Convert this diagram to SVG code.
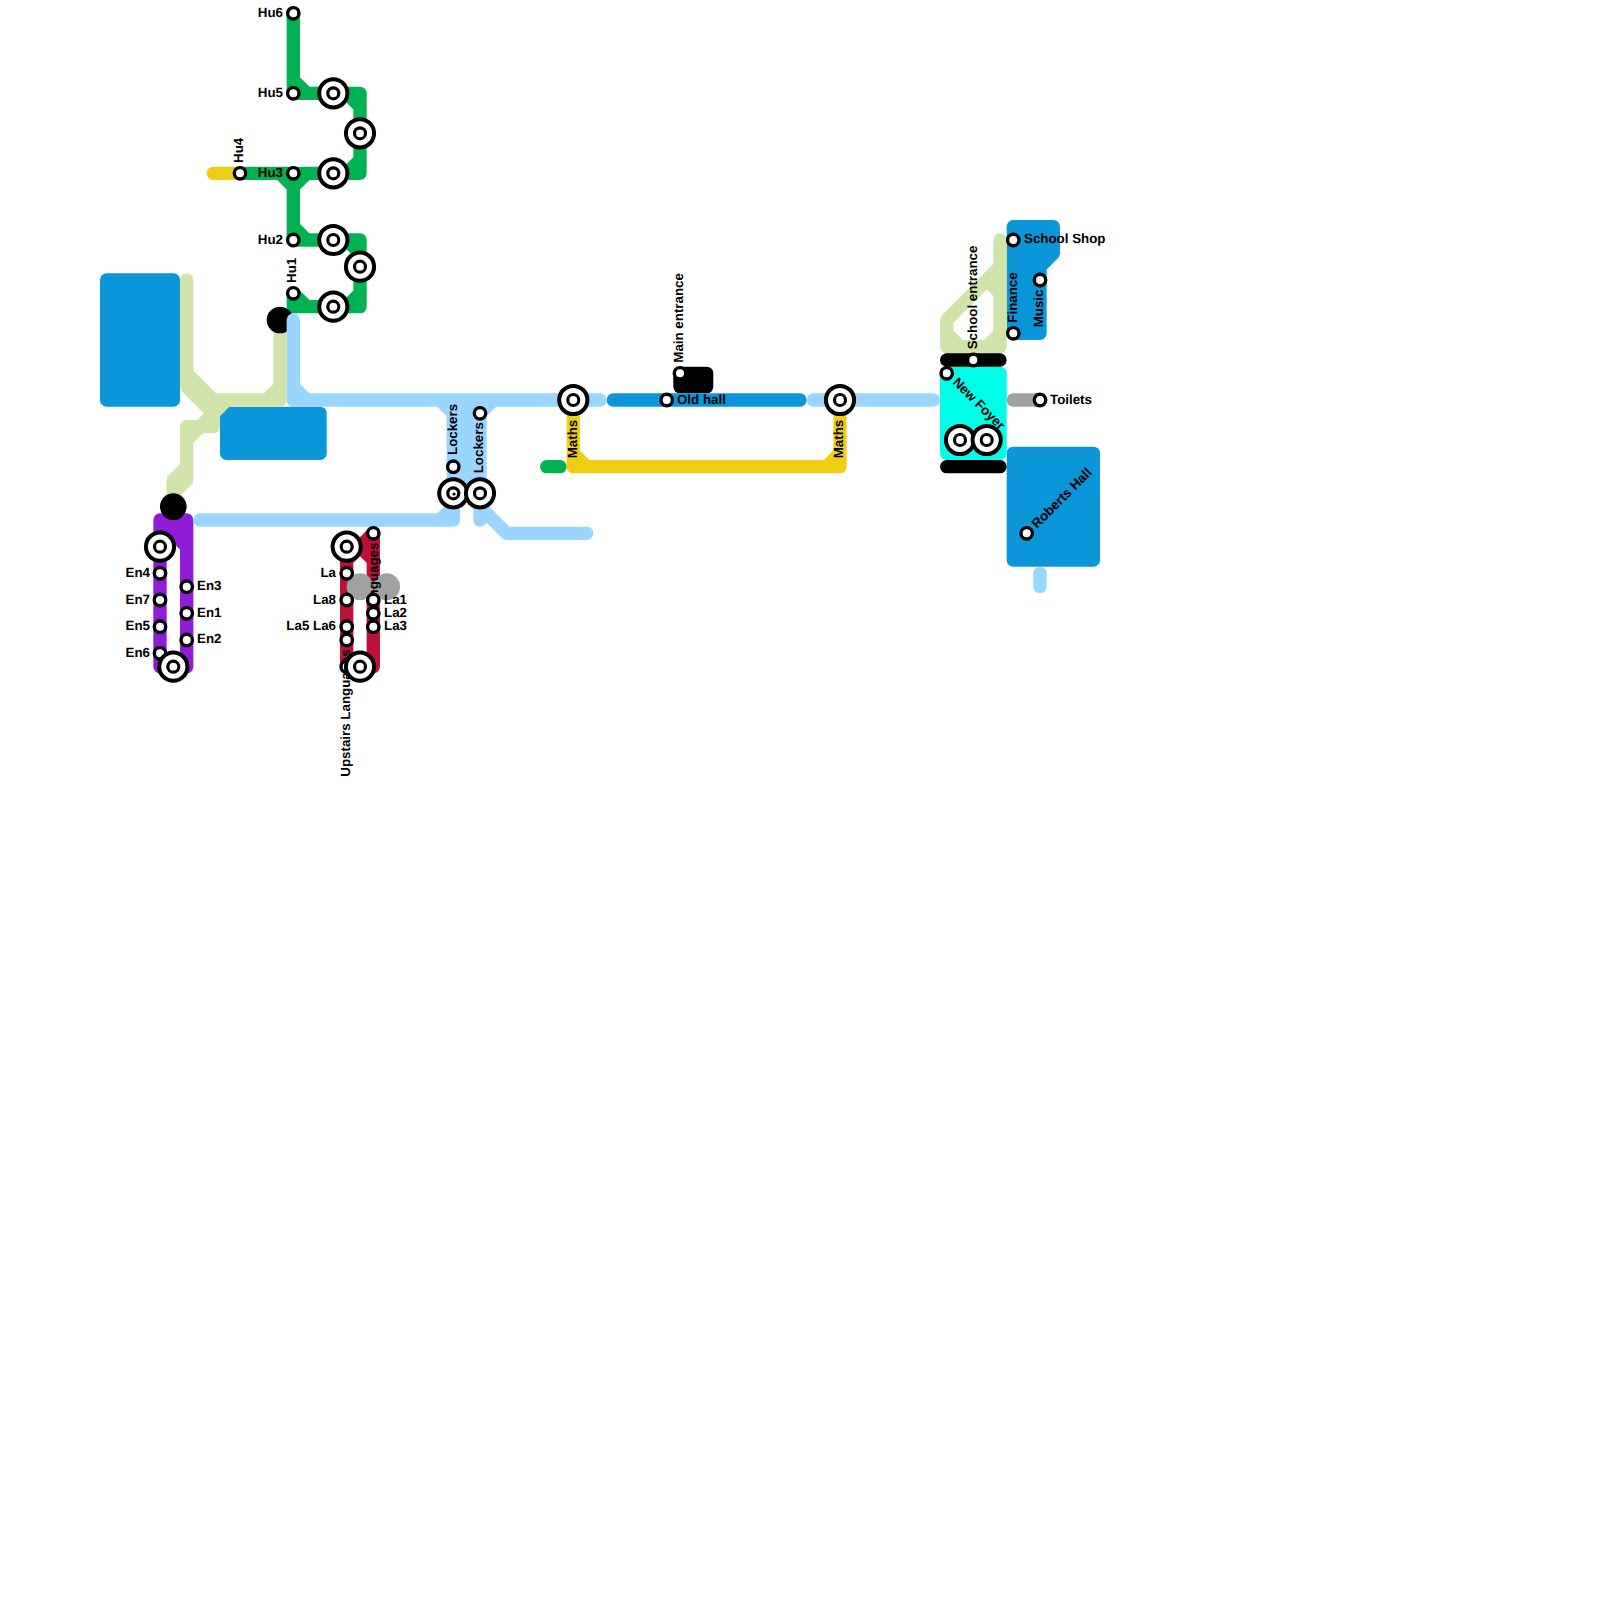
<svg xmlns="http://www.w3.org/2000/svg" width="1600" height="1600" viewBox="0 0 1600 1600">
<style>
.l{fill:none;stroke-width:13.33;stroke-linecap:round;stroke-linejoin:round}
.gr{stroke:#00b251}.pg{stroke:#d0e4a9}.lb{stroke:#99d5ff}.ye{stroke:#f0ce15}.bl{stroke:#0a96d8}.pu{stroke:#8e1cd6}.re{stroke:#bc1138}.gy{stroke:#a1a1a1}.bk{stroke:#000}
.fpu{fill:#8e1cd6}
.area{fill:#0a96d8}
text{font-family:"Liberation Sans",Arial,sans-serif;font-weight:bold;font-size:13.33px;fill:#000;text-rendering:geometricPrecision}
.e{text-anchor:end}
.st{fill:#fff;stroke:#000;stroke-width:3.4}
.o{fill:#fff;stroke:#000;stroke-width:4}
.i{fill:#fff;stroke:#000;stroke-width:3.2}
</style>
<defs>
<g id="ic"><circle class="o" r="14.1"/><circle class="i" r="5.5"/></g>
</defs>
<rect width="1600" height="1600" fill="#fff"/>
<g id="areas">
<rect class="area" x="100" y="273.3" width="80" height="133.4" rx="6.5"/>
<rect class="area" x="220" y="406.7" width="106.7" height="53.3" rx="6.5"/>
<path class="area" stroke="#0a96d8" stroke-width="13.33" stroke-linejoin="round" d="M1013.3 226.7H1053.3V253.3L1040 266.7V333.3H1013.3Z"/>
<rect class="area" x="1006.7" y="446.7" width="93.3" height="120" rx="6.5"/>
<rect x="940" y="366.7" width="66.7" height="93.3" rx="6.5" fill="#00ffe9"/>
<rect x="673.3" y="366.7" width="40" height="26.6" rx="6.5" fill="#000"/>
</g>
<g id="connectors">
<path class="l ye" d="M213.3 173.3H240"/>
<path class="l gr" d="M293.3 13.3V93.3H360V173.3H240M293.3 80L306.7 93.3M346.7 93.3L360 106.7M360 160L346.7 173.3M280 173.3L293.3 186.7L306.7 173.3M293.3 173.3V240H360V306.7H293.3V293.3M293.3 226.7L306.7 240M346.7 240L360 253.3M360 293.3L346.7 306.7M293.3 293.3L306.7 306.7"/>
<path class="l pg" d="M186.7 280V373.3L213.3 400H280V326M186.7 373.3V386.7L213.3 413.3M266.7 400L280 386.7M226.7 400L200 426.7M186.7 426.7H213.3M213.3 413.3V426.7M200 426.7L186.7 440M186.7 426.7V480L173.3 493.3V506.7M186.7 466.7L173.3 480V493.3"/>
<path class="l pg" d="M1000 240V346.7H946.7V320L1000 266.7M986.7 280L1000 293.3M946.7 333.3L960 346.7M986.7 346.7L1000 333.3"/>
<circle cx="280" cy="320" r="13.33" fill="#000"/>
<path class="fpu" d="M160 520H186.7V546.7Z"/>
<path class="l pu" d="M160 520H186.7V666.7H160ZM160 520L186.7 546.7"/>
<circle cx="173.3" cy="506.7" r="13.33" fill="#000"/>
<path class="l lb" d="M293.3 320V400H600M293.3 386.7L306.7 400M440 400L453.3 413.3M493.3 400L480 413.3M453.3 400V520H200M466.7 400V486M480 400V520M440 520L453.3 506.7M480 506.7L506.7 533.3H586.7"/>
<path class="l ye" d="M573.3 400V466.7H840V400M573.3 453.3L586.7 466.7M826.7 466.7L840 453.3"/>
<path class="l gr" d="M546.7 466.7H560"/>
<path class="l bl" d="M613.3 400H800"/>
<path class="l lb" d="M813.3 400H933.3"/>
<path class="l re" d="M346.7 546.7V666.7H373.3V533.3L360 546.7L373.3 560M346.7 560L360 546.7"/>
<circle cx="360" cy="586.7" r="13.33" fill="#a1a1a1"/>
<circle cx="386.7" cy="586.7" r="13.33" fill="#a1a1a1"/>
<path class="l bk" d="M946.7 360H1000M946.7 466.7H1000"/>
<path class="l gy" d="M1013.3 400H1040"/>
<path class="l lb" d="M1040 573.3V586.7"/>
</g>
<g id="labels">
<text class="e" x="283" y="16.5">Hu6</text>
<text class="e" x="283" y="96.5">Hu5</text>
<text class="e" x="283" y="176.5">Hu3</text>
<text class="e" x="283" y="243.5">Hu2</text>
<text transform="translate(243,163) rotate(-90)">Hu4</text>
<text transform="translate(296,283) rotate(-90)">Hu1</text>
<text class="e" x="150" y="576.5">En4</text>
<text class="e" x="150" y="603.5">En7</text>
<text class="e" x="150" y="630">En5</text>
<text class="e" x="150" y="656.5">En6</text>
<text x="197" y="590">En3</text>
<text x="197" y="616.5">En1</text>
<text x="197" y="643">En2</text>
<text class="e" x="336" y="576.5">La</text>
<text class="e" x="336" y="603.5">La8</text>
<text class="e" x="336" y="630">La5 La6</text>
<text x="384" y="603.5">La1</text>
<text x="384" y="616.5">La2</text>
<text x="384" y="630">La3</text>
<text transform="translate(350,776.7) rotate(-90)">Upstairs Languages</text>
<text transform="translate(378,613) rotate(-90)">Languages</text>
<text transform="translate(457,455) rotate(-90)">Lockers</text>
<text transform="translate(483,473.3) rotate(-90)">Lockers</text>
<text transform="translate(577,458.3) rotate(-90)">Maths</text>
<text transform="translate(843,458.3) rotate(-90)">Maths</text>
<text transform="translate(683,362.7) rotate(-90)">Main entrance</text>
<text x="677" y="403.5">Old hall</text>
<text transform="translate(976.5,349.3) rotate(-90)">School entrance</text>
<text transform="translate(1016.5,322.7) rotate(-90)">Finance</text>
<text transform="translate(1043,327.3) rotate(-90)">Music</text>
<text x="1024" y="243">School Shop</text>
<text x="1050" y="403.5">Toilets</text>
<text transform="translate(1037,529) rotate(-45)">Roberts Hall</text>
<text transform="translate(952,383) rotate(45)">New Foyer</text>
</g>
<g id="stations">
<g id="n-hu6"><circle class="st" cx="293.3" cy="13.3" r="5.7"/></g>
<g id="n-hu5"><circle class="st" cx="293.3" cy="93.3" r="5.7"/></g>
<g id="n-hu3"><circle class="st" cx="293.3" cy="173.3" r="5.7"/></g>
<g id="n-hu2"><circle class="st" cx="293.3" cy="240" r="5.7"/></g>
<g id="n-hu1"><circle class="st" cx="293.3" cy="293.3" r="5.7"/></g>
<g id="n-hu4"><circle class="st" cx="240" cy="173.3" r="5.7"/></g>
<use id="x1" href="#ic" x="333.3" y="93.3"/>
<use id="x2" href="#ic" x="360" y="133.3"/>
<use id="x3" href="#ic" x="333.3" y="173.3"/>
<use id="x4" href="#ic" x="333.3" y="240"/>
<use id="x5" href="#ic" x="360" y="266.7"/>
<use id="x6" href="#ic" x="333.3" y="306.7"/>
<g id="n-en4"><circle class="st" cx="160" cy="573.3" r="5.7"/></g>
<g id="n-en7"><circle class="st" cx="160" cy="600" r="5.7"/></g>
<g id="n-en5"><circle class="st" cx="160" cy="626.7" r="5.7"/></g>
<g id="n-en6"><circle class="st" cx="160" cy="653.3" r="5.7"/></g>
<g id="n-en3"><circle class="st" cx="186.7" cy="586.7" r="5.7"/></g>
<g id="n-en1"><circle class="st" cx="186.7" cy="613.3" r="5.7"/></g>
<g id="n-en2"><circle class="st" cx="186.7" cy="640" r="5.7"/></g>
<use id="x7" href="#ic" x="160" y="546.7"/>
<use id="x8" href="#ic" x="173.3" y="666.7"/>
<g id="n-la"><circle class="st" cx="346.7" cy="573.3" r="5.7"/></g>
<g id="n-la8"><circle class="st" cx="346.7" cy="600" r="5.7"/></g>
<g id="n-la5"><circle class="st" cx="346.7" cy="626.7" r="5.7"/></g>
<g id="n-la6"><circle class="st" cx="346.7" cy="640" r="5.7"/></g>
<g id="n-up"><circle class="st" cx="346.7" cy="666.7" r="5.7"/></g>
<g id="n-lang"><circle class="st" cx="373.3" cy="533.3" r="5.7"/></g>
<g id="n-la1"><circle class="st" cx="373.3" cy="600" r="5.7"/></g>
<g id="n-la2"><circle class="st" cx="373.3" cy="613.3" r="5.7"/></g>
<g id="n-la3"><circle class="st" cx="373.3" cy="626.7" r="5.7"/></g>
<use id="x9" href="#ic" x="346.7" y="546.7"/>
<use id="x10" href="#ic" x="360" y="666.7"/>
<g id="n-lock1"><circle class="st" cx="453.3" cy="466.7" r="5.7"/></g>
<g id="n-lock2"><circle class="st" cx="480" cy="413.3" r="5.7"/></g>
<use id="x11" href="#ic" x="453.3" y="493.3"/>
<circle cx="454" cy="494" r="1.6" fill="#000"/>
<use id="x12" href="#ic" x="480" y="493.3"/>
<use id="x13" href="#ic" x="573.3" y="400"/>
<use id="x14" href="#ic" x="840" y="400"/>
<g id="n-old"><circle class="st" cx="666.7" cy="400" r="5.7"/></g>
<g id="n-main"><circle class="st" cx="680" cy="373.3" r="5.7"/></g>
<g id="n-se"><circle class="st" cx="973.3" cy="360" r="5.7"/></g>
<g id="n-nf"><circle class="st" cx="946.7" cy="373.3" r="5.7"/></g>
<use id="x15" href="#ic" x="960" y="440"/>
<use id="x16" href="#ic" x="986.7" y="440"/>
<g id="n-shop"><circle class="st" cx="1013.3" cy="240" r="5.7"/></g>
<g id="n-fin"><circle class="st" cx="1013.3" cy="333.3" r="5.7"/></g>
<g id="n-mus"><circle class="st" cx="1040" cy="280" r="5.7"/></g>
<g id="n-toi"><circle class="st" cx="1040" cy="400" r="5.7"/></g>
<g id="n-rob"><circle class="st" cx="1026.7" cy="533.3" r="5.7"/></g>
</g>
</svg>
